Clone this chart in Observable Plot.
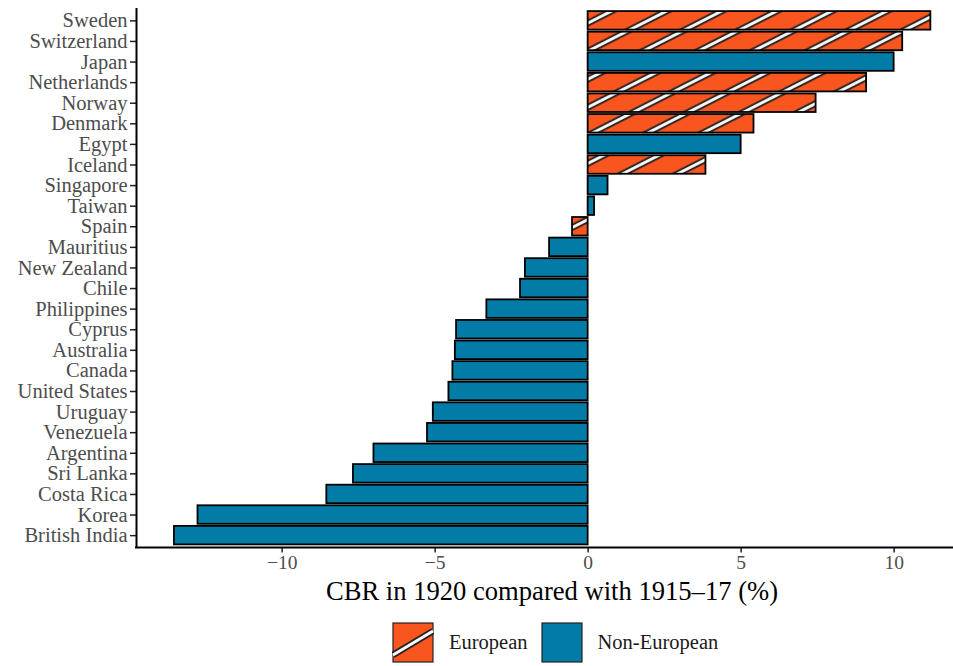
<!DOCTYPE html>
<html>
<head>
<meta charset="utf-8">
<script src="https://cdn.jsdelivr.net/npm/d3@7"></script>
<script src="https://cdn.jsdelivr.net/npm/@observablehq/plot@0.6"></script>
<style>
  html, body { margin: 0; padding: 0; background: #fff; }
  #wrap { position: relative; width: 953px; height: 666px; font-family: "Liberation Serif", "Times New Roman", serif; }
  #title { position: absolute; top: 575px; left: 0; width: 1104px; text-align: center; font-size: 26.6px; color: #000; line-height: 32px; white-space: nowrap; }
  #legend { position: absolute; top: 622px; left: 392px; display: flex; align-items: center; font-size: 20.5px; color: #1a1a1a; }
  #legend .item { display: flex; align-items: center; }
  #legend svg { display: block; }
</style>
</head>
<body>
<div id="wrap">
  <div id="chart"></div>
  <div id="title">CBR in 1920 compared with 1915–17 (%)</div>
  <div id="legend"></div>
</div>
<script>
const countries = ["Sweden","Switzerland","Japan","Netherlands","Norway","Denmark","Egypt","Iceland","Singapore","Taiwan","Spain","Mauritius","New Zealand","Chile","Philippines","Cyprus","Australia","Canada","United States","Uruguay","Venezuela","Argentina","Sri Lanka","Costa Rica","Korea","British India"];
const values = [11.2, 10.28, 10.0, 9.1, 7.45, 5.42, 5.0, 3.85, 0.65, 0.21, -0.51, -1.26, -2.05, -2.21, -3.31, -4.3, -4.34, -4.42, -4.55, -5.06, -5.25, -7.0, -7.67, -8.54, -12.75, -13.52];
const groups = ["European","European","Non-European","European","European","European","Non-European","European","Non-European","Non-European","European","Non-European","Non-European","Non-European","Non-European","Non-European","Non-European","Non-European","Non-European","Non-European","Non-European","Non-European","Non-European","Non-European","Non-European","Non-European"];
const xTicks = [-10, -5, 0, 5, 10];
const legendLabels = ["European", "Non-European"];

const ORANGE = "#F9551F";
const BLUE = "#027BA6";

const data = countries.map((c, i) => ({country: c, value: values[i], group: groups[i]}));

const xDomain = [-14.76, 11.94];

const plot = Plot.plot({
  width: 953,
  height: 574,
  marginTop: 8,
  marginBottom: 26.5,
  marginLeft: 136,
  marginRight: 0,
  style: {fontFamily: "'Liberation Serif', 'Times New Roman', serif", background: "#fff", overflow: "visible"},
  x: {domain: xDomain},
  y: {domain: countries, paddingInner: 0.1, paddingOuter: 0.15, round: false},
  marks: [
    Plot.barX(data.filter(d => d.group === "Non-European"), {x: "value", y: "country", fill: BLUE, stroke: "#000", strokeWidth: 1.8}),
    Plot.barX(data.filter(d => d.group === "European"), {x: "value", y: "country", fill: "url(#hatchEU)", stroke: "#000", strokeWidth: 1.8}),
    Plot.axisY({tickSize: 6, tickPadding: 3, fontSize: 20.5, color: "#4d4d4d", stroke: "#222", strokeWidth: 1.5, label: null}),
    Plot.axisX({ticks: xTicks, tickSize: 5, tickPadding: 2, fontSize: 19.5, color: "#4d4d4d", stroke: "#222", strokeWidth: 1.5, label: null,
      tickFormat: d => d < 0 ? "\u2212" + (-d) : String(d)}),
    Plot.ruleX([xDomain[0]], {stroke: "#000", strokeWidth: 2})
  ]
});

// Hatch pattern definition
const svg = d3.select(plot);
const defs = svg.insert("defs", ":first-child");
const pat = defs.append("pattern")
  .attr("id", "hatchEU")
  .attr("patternUnits", "userSpaceOnUse")
  .attr("width", 10).attr("height", 25)
  .attr("patternTransform", "rotate(-27)");
pat.append("rect").attr("width", 10).attr("height", 25).attr("fill", ORANGE);
pat.append("line").attr("x1", -1).attr("x2", 11).attr("y1", 12.5).attr("y2", 12.5).attr("stroke", "#222").attr("stroke-width", 6.5);
pat.append("line").attr("x1", -1).attr("x2", 11).attr("y1", 12.5).attr("y2", 12.5).attr("stroke", "#fff").attr("stroke-width", 2.8);

// bottom axis line from the scales
const xs = plot.scale("x"), ys = plot.scale("y");
const yBottom = ys.range[1];
svg.append("line")
  .attr("x1", xs.range[0] - 1).attr("x2", xs.range[1])
  .attr("y1", yBottom).attr("y2", yBottom)
  .attr("stroke", "#000").attr("stroke-width", 2);

document.getElementById("chart").appendChild(plot);

// Legend
const legend = d3.select("#legend");
legendLabels.forEach((lab, i) => {
  const item = legend.append("div").attr("class", "item").style("margin-right", i === 0 ? "13px" : "0");
  const s = item.append("svg").attr("width", 42).attr("height", 41);
  if (i === 0) {
    s.append("rect").attr("x", 1).attr("y", 1).attr("width", 40).attr("height", 39).attr("fill", ORANGE).attr("stroke", "#222").attr("stroke-width", 1.2);
    s.append("line").attr("x1", 1).attr("y1", 33).attr("x2", 41).attr("y2", 9).attr("stroke", "#222").attr("stroke-width", 6.5);
    s.append("line").attr("x1", 1).attr("y1", 33).attr("x2", 41).attr("y2", 9).attr("stroke", "#fff").attr("stroke-width", 2.8);
  } else {
    s.append("rect").attr("x", 1).attr("y", 1).attr("width", 40).attr("height", 39).attr("fill", BLUE).attr("stroke", "#222").attr("stroke-width", 1.2);
  }
  item.append("span").text(lab).style("margin-left", "15px");
});
</script>
</body>
</html>
